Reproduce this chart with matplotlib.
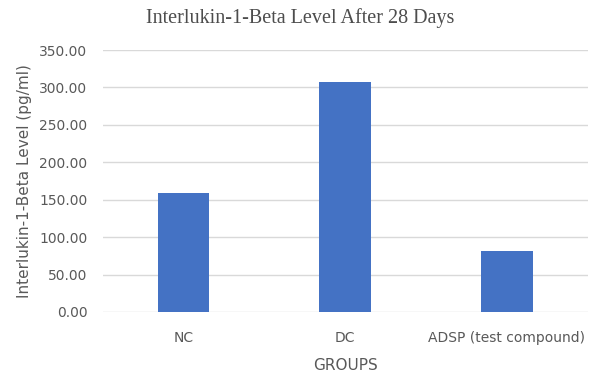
import matplotlib
matplotlib.use("Agg")
import matplotlib.pyplot as plt
import numpy as np

# data
groups = ["NC", "DC", "ADSP (test compound)"]
il1b_level = [159.0, 307.0, 81.0]
y_ticks = [0, 50, 100, 150, 200, 250, 300, 350]

text_grey = "#595959"
bar_blue = "#4472C4"

fig = plt.figure(figsize=(6.01, 3.79), dpi=100)
ax = fig.add_axes([0.171, 0.177, 0.807, 0.691])

x = np.arange(len(groups))
ax.bar(x, il1b_level, width=0.32, color=bar_blue, zorder=3)

ax.set_xlim(-0.5, len(groups) - 0.5)
ax.set_ylim(0, 350)
ax.set_yticks(y_ticks)
ax.set_yticklabels(["%.2f" % v for v in y_ticks])
ax.set_xticks(x)
ax.set_xticklabels(groups)

ax.grid(axis="y", color="#d9d9d9", linewidth=1, zorder=0)
for s in ax.spines.values():
    s.set_visible(False)
ax.tick_params(axis="both", length=0, labelsize=10, colors=text_grey)
ax.tick_params(axis="x", pad=14)
ax.tick_params(axis="y", pad=11)

ax.set_xlabel("GROUPS", fontsize=11, color=text_grey, labelpad=9)
ax.set_ylabel("Interlukin-1-Beta Level (pg/ml)", fontsize=11, color=text_grey, labelpad=5)

fig.text(0.5, 0.952, "Interlukin-1-Beta Level After 28 Days", ha="center", va="center",
         fontsize=14.5, family="Liberation Serif", color="#4d4d4d")

fig.savefig("out.png", dpi=100)
